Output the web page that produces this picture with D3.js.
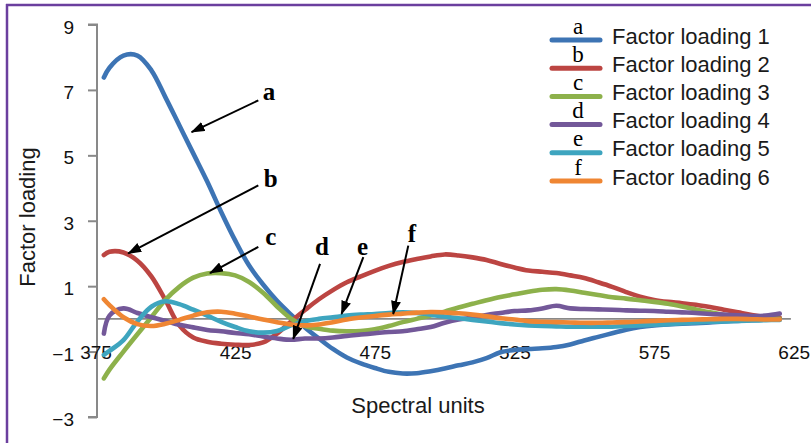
<!DOCTYPE html>
<html>
<head>
<meta charset="utf-8">
<script src="https://cdn.jsdelivr.net/npm/d3@7"></script>
<style>
  html, body { margin: 0; padding: 0; background: #fff; }
  svg { display: block; }
</style>
</head>
<body>
<svg id="chart" width="811" height="443"></svg>
<script>
// ---------------- data ----------------
const wavelengths = [378, 380, 385, 390, 395, 400, 405, 410, 415, 420, 425, 430, 435, 440, 445, 450, 455, 460, 465, 470,
  475, 480, 485, 490, 495, 500, 505, 510, 515, 520, 525, 530, 535, 540, 545, 550, 555, 560, 565, 570,
  575, 580, 585, 590, 595, 600, 605, 610, 615, 620];

const factor1 = [7.38, 7.68, 8.05, 8.05, 7.6, 6.78, 5.92, 5.06, 4.2, 3.27, 2.4, 1.63, 1.05, 0.55, 0.13, -0.26, -0.6, -0.92, -1.18, -1.36,
  -1.5, -1.62, -1.67, -1.66, -1.6, -1.52, -1.42, -1.33, -1.2, -1.02, -0.95, -0.92, -0.9, -0.86, -0.78, -0.66, -0.55, -0.44, -0.33, -0.25,
  -0.2, -0.17, -0.15, -0.13, -0.11, -0.08, -0.06, -0.04, -0.02, 0.0];

const factor2 = [1.95, 2.05, 2.03, 1.78, 1.3, 0.58, -0.2, -0.57, -0.7, -0.76, -0.79, -0.8, -0.72, -0.45, -0.08, 0.27, 0.6, 0.88, 1.12, 1.3,
  1.47, 1.62, 1.74, 1.83, 1.91, 1.97, 1.94, 1.88, 1.8, 1.68, 1.57, 1.48, 1.44, 1.4, 1.33, 1.25, 1.12, 0.98, 0.82, 0.68,
  0.58, 0.52, 0.48, 0.43, 0.36, 0.28, 0.2, 0.12, 0.06, 0.03];

const factor3 = [-1.82, -1.55, -1.0, -0.47, 0.05, 0.58, 0.98, 1.26, 1.39, 1.4, 1.33, 1.13, 0.8, 0.38, 0.01, -0.22, -0.3, -0.36, -0.38, -0.37,
  -0.32, -0.22, -0.1, 0.0, 0.1, 0.22, 0.35, 0.46, 0.57, 0.67, 0.75, 0.83, 0.89, 0.91, 0.87, 0.8, 0.73, 0.66, 0.62, 0.57,
  0.52, 0.46, 0.38, 0.29, 0.2, 0.12, 0.06, 0.03, 0.01, 0.0];

const factor4 = [-0.45, 0.1, 0.32, 0.18, 0.05, -0.06, -0.18, -0.26, -0.34, -0.38, -0.43, -0.47, -0.54, -0.6, -0.64, -0.6, -0.6, -0.57, -0.52, -0.48,
  -0.44, -0.4, -0.38, -0.32, -0.25, -0.12, -0.02, 0.04, 0.12, 0.18, 0.24, 0.26, 0.32, 0.4, 0.32, 0.3, 0.29, 0.28, 0.26, 0.25,
  0.24, 0.22, 0.2, 0.18, 0.15, 0.13, 0.11, 0.09, 0.1, 0.16];

const factor5 = [-1.1, -0.98, -0.65, -0.08, 0.37, 0.54, 0.45, 0.28, 0.1, -0.09, -0.25, -0.38, -0.42, -0.37, -0.2, -0.07, 0.0, 0.05, 0.1, 0.13,
  0.15, 0.18, 0.2, 0.18, 0.13, 0.07, 0.02, -0.03, -0.08, -0.13, -0.17, -0.2, -0.22, -0.23, -0.24, -0.24, -0.24, -0.24, -0.22, -0.2,
  -0.18, -0.16, -0.13, -0.11, -0.09, -0.08, -0.06, -0.05, -0.04, -0.03];

const factor6 = [0.6, 0.42, 0.05, -0.16, -0.22, -0.15, -0.03, 0.1, 0.2, 0.22, 0.16, 0.07, -0.02, -0.1, -0.17, -0.2, -0.17, -0.1, -0.02, 0.04,
  0.09, 0.13, 0.16, 0.19, 0.21, 0.2, 0.17, 0.13, 0.08, 0.02, -0.02, -0.07, -0.09, -0.1, -0.11, -0.12, -0.12, -0.11, -0.1, -0.08,
  -0.06, -0.04, -0.03, -0.02, -0.01, 0.0, 0.0, -0.01, -0.02, -0.02];

const seriesNames = ["Factor loading 1", "Factor loading 2", "Factor loading 3", "Factor loading 4", "Factor loading 5", "Factor loading 6"];
const seriesLetters = ["a", "b", "c", "d", "e", "f"];
const seriesColors = ["#3D74B4", "#BC4542", "#8DB14B", "#735899", "#3EA5BF", "#EF8633"];
const seriesValues = [factor1, factor2, factor3, factor4, factor5, factor6];

const xTicks = [375, 425, 475, 525, 575, 625];
const yTicks = [9, 7, 5, 3, 1, -1, -3];

// annotation arrows: letter, label point, arrow start, arrow tip (data coords)
const annLetters = ["a", "b", "c", "d", "e", "f"];
const annLabel = [[437.1, 6.68], [437.7, 4.02], [437.8, 2.25], [456.1, 1.95], [470.6, 1.95], [488.3, 2.34]];
const annStart = [[433.3, 6.68], [433.3, 4.08], [433.3, 2.2], [455.4, 1.68], [470.9, 1.89], [487.0, 2.24]];
const annTip = [[409.4, 5.71], [386.7, 2.0], [416.0, 1.4], [445.8, -0.61], [463.1, 0.15], [481.6, 0.15]];

// ---------------- drawing ----------------
const svg = d3.select("#chart");
const x = d3.scaleLinear().domain([375, 625]).range([95.5, 793.7]);
const y = d3.scaleLinear().domain([-3, 9]).range([417, 24.5]);
const axisX = 97;
const grey = "#898989";

// frame
svg.append("line").attr("x1", 7).attr("x2", 7).attr("y1", 4).attr("y2", 443)
  .attr("stroke", "#6B3F9E").attr("stroke-width", 2.5);
svg.append("line").attr("x1", 6).attr("x2", 811).attr("y1", 5).attr("y2", 5)
  .attr("stroke", "#6B3F9E").attr("stroke-width", 2.5);

// y axis
const yAxis = svg.append("g").attr("transform", `translate(${axisX},0)`)
  .call(d3.axisLeft(y).tickValues(yTicks).tickSize(9).tickPadding(14).tickFormat(d3.format("d")));
yAxis.select(".domain").attr("stroke", grey).attr("stroke-width", 2)
  .attr("d", `M-9,${y(9)}H0V${y(-3)}H-9`);
yAxis.selectAll(".tick line").attr("stroke", grey).attr("stroke-width", 2);
yAxis.selectAll(".tick text").attr("font-family", "Liberation Sans, Arial, sans-serif")
  .attr("font-size", 19).attr("fill", "#111").attr("dy", "0.45em");

// zero line
svg.append("line").attr("x1", axisX).attr("x2", x(624)).attr("y1", y(0)).attr("y2", y(0))
  .attr("stroke", grey).attr("stroke-width", 1.6);

// x tick labels
const xAxis = svg.append("g").attr("transform", `translate(0,${y(0)})`)
  .call(d3.axisBottom(x).tickValues(xTicks).tickSize(0).tickPadding(27).tickFormat(d3.format("d")));
xAxis.select(".domain").remove();
xAxis.selectAll(".tick text").attr("font-family", "Liberation Sans, Arial, sans-serif")
  .attr("font-size", 19).attr("fill", "#111");

// axis titles
svg.append("text").attr("transform", `translate(35,217) rotate(-90)`)
  .attr("text-anchor", "middle").attr("font-family", "Liberation Sans, Arial, sans-serif")
  .attr("font-size", 22).attr("fill", "#1a1a1a").text("Factor loading");
svg.append("text").attr("x", 418).attr("y", 413)
  .attr("text-anchor", "middle").attr("font-family", "Liberation Sans, Arial, sans-serif")
  .attr("font-size", 22).attr("fill", "#1a1a1a").text("Spectral units");

// series
const line = d3.line().x((d, i) => x(wavelengths[i])).y(d => y(d)).curve(d3.curveCatmullRom.alpha(0.5));
seriesValues.forEach((vals, k) => {
  svg.append("path").datum(vals).attr("d", line)
    .attr("fill", "none").attr("stroke", seriesColors[k]).attr("stroke-width", 4.6)
    .attr("stroke-linecap", "round").attr("stroke-linejoin", "round");
});

// arrow marker
svg.append("defs").append("marker").attr("id", "ah")
  .attr("viewBox", "0 0 14 10").attr("refX", 13).attr("refY", 5)
  .attr("markerWidth", 14).attr("markerHeight", 10).attr("markerUnits", "userSpaceOnUse")
  .attr("orient", "auto")
  .append("path").attr("d", "M0,0L14,5L0,10Z").attr("fill", "#000");

annLetters.forEach((L, i) => {
  svg.append("line")
    .attr("x1", x(annStart[i][0])).attr("y1", y(annStart[i][1]))
    .attr("x2", x(annTip[i][0])).attr("y2", y(annTip[i][1]))
    .attr("stroke", "#000").attr("stroke-width", 2).attr("marker-end", "url(#ah)");
  svg.append("text").attr("x", x(annLabel[i][0])).attr("y", y(annLabel[i][1]))
    .attr("text-anchor", "middle").attr("font-family", "Liberation Serif, Times New Roman, serif")
    .attr("font-weight", "bold").attr("font-size", 25).attr("fill", "#000").text(L);
});

// legend
const legend = svg.append("g");
seriesNames.forEach((name, i) => {
  const ly = 40 + i * 28.2;
  legend.append("line").attr("x1", 552).attr("x2", 600).attr("y1", ly).attr("y2", ly)
    .attr("stroke", seriesColors[i]).attr("stroke-width", 5).attr("stroke-linecap", "round");
  legend.append("text").attr("x", 578).attr("y", ly - 6.5)
    .attr("text-anchor", "middle").attr("font-family", "Liberation Serif, Times New Roman, serif")
    .attr("font-size", 23).attr("fill", "#000").text(seriesLetters[i]);
  legend.append("text").attr("x", 612).attr("y", ly + 3.5)
    .attr("font-family", "Liberation Sans, Arial, sans-serif")
    .attr("font-size", 22).attr("fill", "#1a1a1a").text(name);
});
</script>
</body>
</html>
